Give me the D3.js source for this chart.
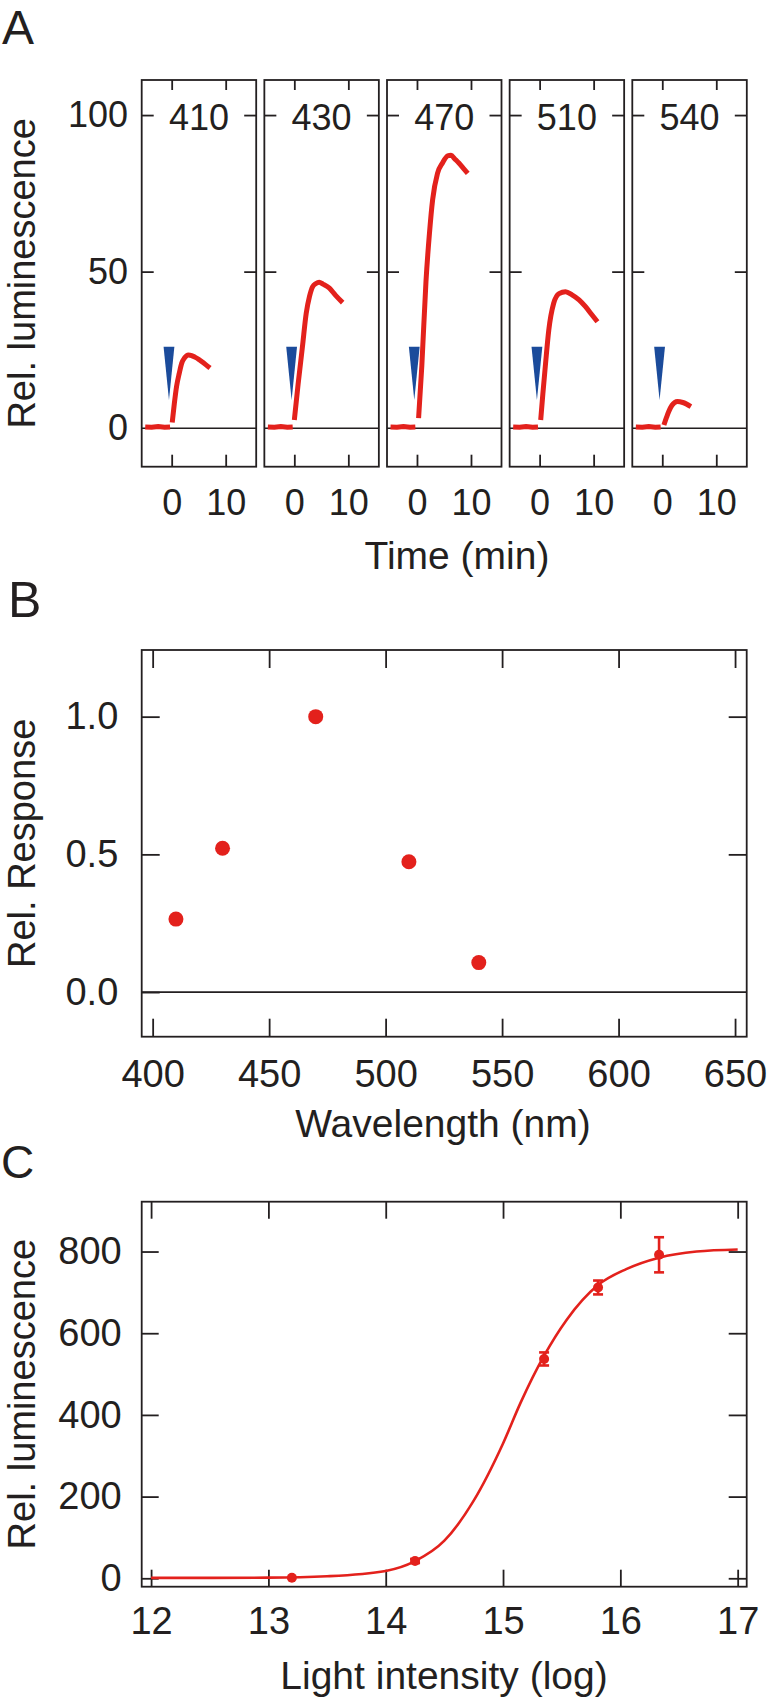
<!DOCTYPE html>
<html><head><meta charset="utf-8">
<script src="https://cdn.jsdelivr.net/npm/d3@7"></script>
<style>
body{margin:0;background:#fff}
svg{display:block}
text{font-family:"Liberation Sans",Arial,Helvetica,sans-serif;fill:#231f20}
</style>
</head><body>
<svg id="c" width="767" height="1699"></svg>
<script>
// ---------- Panel A data ----------
const wavelengthsA = ["410", "430", "470", "510", "540"];
const baselineT = [-4.9, -3.7, -2.5, -1.3, -0.3];
const baselineV = [0.4, 0.3, 0.5, 0.3, 0.4];
const resp410T = [0.1, 0.5, 0.9, 1.4, 1.85, 2.4, 3.1, 3.7, 4.3, 5.0, 5.55, 6.3, 7.1];
const resp410V = [1.8, 8, 13.3, 17.5, 20.7, 22.5, 23.4, 23.2, 22.7, 22, 21.3, 20.3, 19.2];
const resp430T = [0.0, 0.7, 1.5, 2.2, 2.8, 3.4, 4.0, 4.6, 5.3, 6.5, 7.6, 8.95];
const resp430V = [2.6, 14, 26, 36.7, 42, 45.2, 46.2, 46.6, 46, 44.7, 42.5, 40.1];
const resp470T = [0.3, 0.9, 1.67, 2.3, 2.9, 3.8, 4.75, 5.7, 6.3, 7.0, 7.8, 8.6, 9.4];
const resp470V = [3.2, 20, 47, 62, 73, 81.4, 84.8, 87, 87.2, 86, 84.6, 83, 81.4];
const resp510T = [0.2, 0.6, 1.1, 1.7, 2.6, 3.6, 4.8, 6.0, 7.3, 8.5, 9.6, 10.7];
const resp510V = [2.6, 11, 20.7, 31.4, 39.9, 43, 43.6, 42.6, 41, 38.8, 36.4, 34];
const resp540T = [0.3, 0.8, 1.2, 1.8, 2.8, 3.8, 5.3];
const resp540V = [1, 3.5, 5.3, 7.3, 8.5, 8.2, 6.9];
const stimTime = -0.5, stimTop = 26, stimTip = 9, stimHalfWidth = 1.0;
const ticksAY = [0, 50, 100];
const ticksAX = [0, 10];

// ---------- Panel B data ----------
const wavelengthsB = [410, 430, 470, 510, 540];
const responseB = [0.265, 0.522, 1.0, 0.473, 0.107];
const ticksBX = [400, 450, 500, 550, 600, 650];
const ticksBY = [0.0, 0.5, 1.0];

// ---------- Panel C data ----------
const intensityC = [13.2, 14.25, 15.35, 15.81, 16.33];
const lumC = [1.5, 42.4, 537, 712, 792];
const lumErrC = [2, 5, 16, 17, 43];
const fitX = [12.0, 12.5, 13.0, 13.5, 14.0, 14.25, 14.5, 14.75, 15.0, 15.15, 15.35, 15.54, 15.81, 16.05, 16.33, 16.65, 17.0];
const fitY = [1, 1, 1.5, 5, 18, 42, 92, 190, 330, 430, 545, 632, 718, 757, 785, 800, 805];
const ticksCX = [12, 13, 14, 15, 16, 17];
const ticksCY = [0, 200, 400, 600, 800];

// ---------- styles ----------
const RED = "#e3211c", BLUE = "#1b4b9b", INK = "#231f20";
const svg = d3.select("#c");

function styleAxis(g, fs) {
  g.select(".domain").remove();
  g.selectAll(".tick line").attr("stroke", INK).attr("stroke-width", 1.8);
  g.selectAll(".tick text").attr("font-size", fs).attr("fill", INK)
    .attr("font-family", '"Liberation Sans",Arial,Helvetica,sans-serif');
  g.attr("font-size", null).attr("font-family", null);
}

// ================= Panel A =================
const aTop = 80, aBot = 466.7, aLeft0 = 141.7, aStride = 122.65, aW = 114.5;
const yA = d3.scaleLinear().domain([-12.3, 111.2]).range([aBot, aTop]);
const xA = d3.scaleLinear().domain([-5.55, 15.65]).range([0, aW]);
const respT = [resp410T, resp430T, resp470T, resp510T, resp540T];
const respV = [resp410V, resp430V, resp470V, resp510V, resp540V];
const lineLin = d3.line().x(d => xA(d[0])).y(d => yA(d[1]));
const lineSmooth = d3.line().curve(d3.curveMonotoneX).x(d => xA(d[0])).y(d => yA(d[1]));

wavelengthsA.forEach((wl, i) => {
  const g = svg.append("g").attr("transform", `translate(${aLeft0 + i * aStride},0)`);
  g.append("line").attr("x1", 0).attr("x2", aW).attr("y1", yA(0)).attr("y2", yA(0))
    .attr("stroke", INK).attr("stroke-width", 1.6);
  const tl = g.append("g").call(d3.axisLeft(yA).tickValues([50, 100]).tickSize(-12).tickPadding(13.7)
    .tickFormat(i === 0 ? d3.format("d") : ""));
  styleAxis(tl, 36);
  const tr = g.append("g").attr("transform", `translate(${aW},0)`)
    .call(d3.axisRight(yA).tickValues([50, 100]).tickSize(-12).tickFormat(""));
  styleAxis(tr, 36);
  const tt = g.append("g").attr("transform", `translate(0,${aTop})`)
    .call(d3.axisTop(xA).tickValues(ticksAX).tickSize(-10).tickFormat(""));
  styleAxis(tt, 36);
  const tb = g.append("g").attr("transform", `translate(0,${aBot})`)
    .call(d3.axisBottom(xA).tickValues(ticksAX).tickSize(-12).tickPadding(22.5).tickFormat(d3.format("d")));
  styleAxis(tb, 36);
  if (i === 0) {
    g.append("text").attr("x", -13.7).attr("y", yA(0)).attr("dy", "0.32em")
      .attr("text-anchor", "end").attr("font-size", 36).text(ticksAY[0]);
  }
  g.append("rect").attr("x", 0).attr("y", aTop).attr("width", aW).attr("height", aBot - aTop)
    .attr("fill", "none").attr("stroke", INK).attr("stroke-width", 1.8);
  // stimulus triangle
  g.append("path").attr("fill", BLUE).attr("d",
    `M${xA(stimTime - stimHalfWidth)},${yA(stimTop)}L${xA(stimTime + stimHalfWidth)},${yA(stimTop)}L${xA(stimTime)},${yA(stimTip)}Z`);
  // baseline
  g.append("path").attr("fill", "none").attr("stroke", RED).attr("stroke-width", 5)
    .attr("d", lineLin(baselineT.map((t, k) => [t, baselineV[k]])));
  // response
  g.append("path").attr("fill", "none").attr("stroke", RED).attr("stroke-width", 5)
    .attr("stroke-linejoin", "round")
    .attr("d", lineSmooth(respT[i].map((t, k) => [t, respV[i][k]])));
  // wavelength label
  g.append("text").attr("x", aW / 2).attr("y", 130).attr("text-anchor", "middle")
    .attr("font-size", 36).text(wl);
});
svg.append("text").attr("x", 2).attr("y", 44).attr("font-size", 48).text("A");
svg.append("text").attr("transform", `translate(35,${(aTop + aBot) / 2}) rotate(-90)`)
  .attr("text-anchor", "middle").attr("font-size", 38).text("Rel. luminescence");
svg.append("text").attr("x", 457).attr("y", 569).attr("text-anchor", "middle")
  .attr("font-size", 39).text("Time (min)");

// ================= Panel B =================
const bL = 141.7, bR = 746.7, bT = 650, bB = 1036.7;
const xB = d3.scaleLinear().domain([395.3, 655]).range([bL, bR]);
const yB = d3.scaleLinear().domain([-0.162, 1.242]).range([bB, bT]);
{
  const g = svg.append("g");
  g.append("line").attr("x1", bL).attr("x2", bR).attr("y1", yB(0)).attr("y2", yB(0))
    .attr("stroke", INK).attr("stroke-width", 1.6);
  const al = g.append("g").attr("transform", `translate(${bL},0)`)
    .call(d3.axisLeft(yB).tickValues(ticksBY).tickSize(-18).tickPadding(23.4).tickFormat(d3.format(".1f")));
  styleAxis(al, 38);
  const ar = g.append("g").attr("transform", `translate(${bR},0)`)
    .call(d3.axisRight(yB).tickValues(ticksBY.slice(1)).tickSize(-18).tickFormat(""));
  styleAxis(ar, 38);
  const at = g.append("g").attr("transform", `translate(0,${bT})`)
    .call(d3.axisTop(xB).tickValues(ticksBX).tickSize(-18).tickFormat(""));
  styleAxis(at, 38);
  const ab = g.append("g").attr("transform", `translate(0,${bB})`)
    .call(d3.axisBottom(xB).tickValues(ticksBX).tickSize(-18).tickPadding(23.6).tickFormat(d3.format("d")));
  styleAxis(ab, 38);
  g.append("rect").attr("x", bL).attr("y", bT).attr("width", bR - bL).attr("height", bB - bT)
    .attr("fill", "none").attr("stroke", INK).attr("stroke-width", 1.8);
  g.selectAll("circle.pt").data(wavelengthsB).enter().append("circle")
    .attr("cx", d => xB(d)).attr("cy", (d, k) => yB(responseB[k])).attr("r", 7.5).attr("fill", RED);
}
svg.append("text").attr("x", 8).attr("y", 617).attr("font-size", 50).text("B");
svg.append("text").attr("transform", `translate(35,${(bT + bB) / 2}) rotate(-90)`)
  .attr("text-anchor", "middle").attr("font-size", 38).text("Rel. Response");
svg.append("text").attr("x", 443).attr("y", 1137).attr("text-anchor", "middle")
  .attr("font-size", 39).text("Wavelength (nm)");

// ================= Panel C =================
const cL = 141.7, cR = 746.7, cT = 1201.7, cB = 1586.7;
const xC = d3.scaleLinear().domain([11.92, 17.077]).range([cL, cR]);
const yC = d3.scaleLinear().domain([-20.6, 922]).range([cB, cT]);
{
  const g = svg.append("g");
  const al = g.append("g").attr("transform", `translate(${cL},0)`)
    .call(d3.axisLeft(yC).tickValues(ticksCY).tickSize(-17).tickPadding(20).tickFormat(d3.format("d")));
  styleAxis(al, 38);
  const ar = g.append("g").attr("transform", `translate(${cR},0)`)
    .call(d3.axisRight(yC).tickValues(ticksCY).tickSize(-18).tickFormat(""));
  styleAxis(ar, 38);
  const at = g.append("g").attr("transform", `translate(0,${cT})`)
    .call(d3.axisTop(xC).tickValues(ticksCX).tickSize(-17).tickFormat(""));
  styleAxis(at, 38);
  const ab = g.append("g").attr("transform", `translate(0,${cB})`)
    .call(d3.axisBottom(xC).tickValues(ticksCX).tickSize(-17).tickPadding(20.3).tickFormat(d3.format("d")));
  styleAxis(ab, 38);
  g.append("rect").attr("x", cL).attr("y", cT).attr("width", cR - cL).attr("height", cB - cT)
    .attr("fill", "none").attr("stroke", INK).attr("stroke-width", 1.8);
  const fitLine = d3.line().curve(d3.curveMonotoneX).x(d => xC(d[0])).y(d => yC(d[1]));
  g.append("path").attr("fill", "none").attr("stroke", RED).attr("stroke-width", 2.6)
    .attr("d", fitLine(fitX.map((x, k) => [x, fitY[k]])));
  intensityC.forEach((x, k) => {
    const cx = xC(x), lo = yC(lumC[k] - lumErrC[k]), hi = yC(lumC[k] + lumErrC[k]);
    if (lumErrC[k] > 4) {
      g.append("line").attr("x1", cx).attr("x2", cx).attr("y1", lo).attr("y2", hi)
        .attr("stroke", RED).attr("stroke-width", 2.6);
      [lo, hi].forEach(yy => g.append("line").attr("x1", cx - 5).attr("x2", cx + 5)
        .attr("y1", yy).attr("y2", yy).attr("stroke", RED).attr("stroke-width", 2.6));
    }
    g.append("circle").attr("cx", cx).attr("cy", yC(lumC[k])).attr("r", 5).attr("fill", RED);
  });
}
svg.append("text").attr("x", 1).attr("y", 1178).attr("font-size", 46).text("C");
svg.append("text").attr("transform", `translate(35,${(cT + cB) / 2}) rotate(-90)`)
  .attr("text-anchor", "middle").attr("font-size", 38).text("Rel. luminescence");
svg.append("text").attr("x", 444).attr("y", 1689).attr("text-anchor", "middle")
  .attr("font-size", 39).text("Light intensity (log)");
</script>
</body></html>
